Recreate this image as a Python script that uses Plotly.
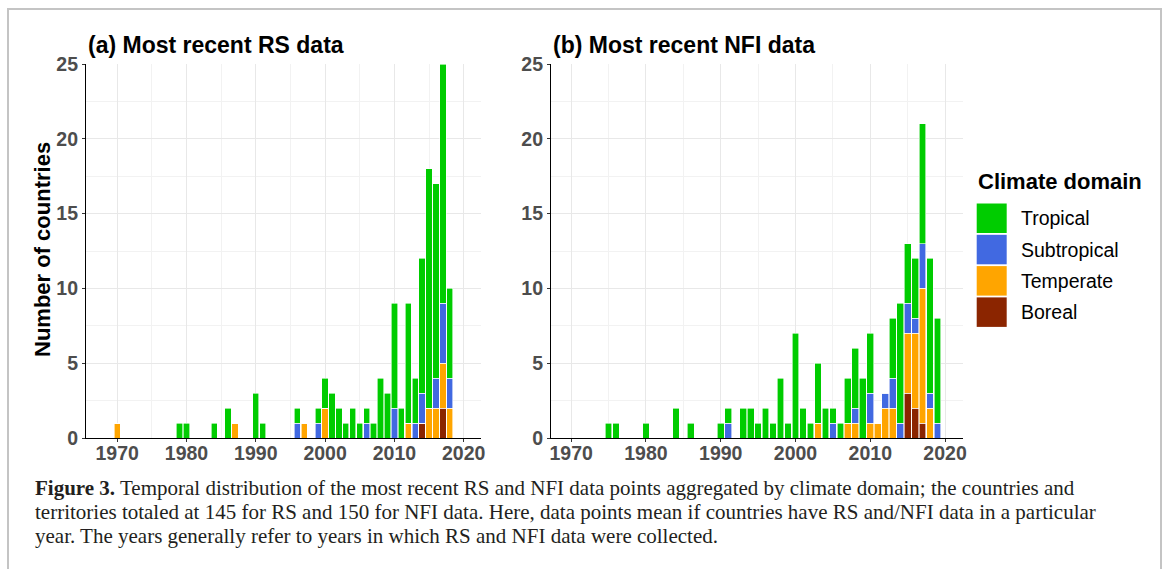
import plotly.graph_objects as go

W, H = 1167, 569

# ---------------- data ----------------
rs_years = [1970, 1979, 1980, 1984, 1986, 1987, 1990, 1991, 1996, 1997, 1999, 2000,
            2001, 2002, 2003, 2004, 2005, 2006, 2007, 2008, 2009, 2010, 2011, 2012,
            2013, 2014, 2015, 2016, 2017, 2018]
rs_tropical    = [0, 1, 1, 1, 2, 0, 3, 1, 1, 0, 1, 2, 3, 2, 1, 2, 1, 1, 1, 4, 3, 7, 2, 8, 3, 9, 16, 13, 16, 6]
rs_subtropical = [0, 0, 0, 0, 0, 0, 0, 0, 1, 0, 1, 0, 0, 0, 0, 0, 0, 1, 0, 0, 0, 2, 0, 0, 1, 2, 0, 2, 4, 2]
rs_temperate   = [1, 0, 0, 0, 0, 1, 0, 0, 0, 1, 0, 2, 0, 0, 0, 0, 0, 0, 0, 0, 0, 0, 0, 1, 0, 0, 2, 2, 3, 2]
rs_boreal      = [0, 0, 0, 0, 0, 0, 0, 0, 0, 0, 0, 0, 0, 0, 0, 0, 0, 0, 0, 0, 0, 0, 0, 0, 0, 1, 0, 0, 2, 0]

nfi_years = [1975, 1976, 1980, 1984, 1986, 1990, 1991, 1993, 1994, 1995, 1996, 1997,
             1998, 1999, 2000, 2001, 2002, 2003, 2004, 2005, 2006, 2007, 2008, 2009,
             2010, 2011, 2012, 2013, 2014, 2015, 2016, 2017, 2018, 2019]
nfi_tropical    = [1, 1, 1, 2, 1, 1, 1, 2, 2, 1, 2, 1, 4, 1, 7, 2, 1, 4, 2, 1, 1, 3, 4, 4, 4, 0, 0, 4, 8, 4, 4, 8, 9, 7]
nfi_subtropical = [0, 0, 0, 0, 0, 0, 1, 0, 0, 0, 0, 0, 0, 0, 0, 0, 0, 0, 0, 1, 0, 0, 1, 0, 2, 0, 1, 2, 1, 2, 1, 3, 1, 1]
nfi_temperate   = [0, 0, 0, 0, 0, 0, 0, 0, 0, 0, 0, 0, 0, 0, 0, 0, 0, 1, 0, 0, 0, 1, 1, 0, 1, 1, 2, 2, 0, 4, 5, 9, 2, 0]
nfi_boreal      = [0, 0, 0, 0, 0, 0, 0, 0, 0, 0, 0, 0, 0, 0, 0, 0, 0, 0, 0, 0, 0, 0, 0, 0, 0, 0, 0, 0, 0, 3, 2, 1, 0, 0]

domain_names = ["Tropical", "Subtropical", "Temperate", "Boreal"]
domain_colors = ["#00CC00", "#4169E1", "#FFA500", "#8B2500"]

x_ticks = [1970, 1980, 1990, 2000, 2010, 2020]
y_ticks = [0, 5, 10, 15, 20, 25]

panel_titles = ["(a) Most recent RS data", "(b) Most recent NFI data"]
y_title = "Number of countries"
legend_title = "Climate domain"
caption_lines = [
    "<b>Figure 3.</b> Temporal distribution of the most recent RS and NFI data points aggregated by climate domain; the countries and",
    "territories totaled at 145 for RS and 150 for NFI data. Here, data points mean if countries have RS and/NFI data in a particular",
    "year. The years generally refer to years in which RS and NFI data were collected.",
]

# ---------------- helpers ----------------
def px(x):
    return x / W

def py(y):
    return 1 - y / H

SANS = "Liberation Sans, Arial, Helvetica, sans-serif"
SERIF = "Liberation Serif, Times New Roman, serif"

fig = go.Figure()

panels = [
    (rs_years, [rs_tropical, rs_subtropical, rs_temperate, rs_boreal], "x", "y"),
    (nfi_years, [nfi_tropical, nfi_subtropical, nfi_temperate, nfi_boreal], "x2", "y2"),
]
for years, series, xa, ya in panels:
    # stack bottom-up: Boreal, Temperate, Subtropical, Tropical
    for idx in [3, 2, 1, 0]:
        fig.add_trace(go.Bar(
            x=years, y=series[idx], name=domain_names[idx],
            marker=dict(color=domain_colors[idx], line=dict(color="white", width=0.6)),
            width=0.9, xaxis=xa, yaxis=ya, showlegend=False,
            hoverinfo="x+y+name",
        ))

axis_common = dict(
    showline=True, linecolor="black", linewidth=1.2,
    ticks="outside", ticklen=3, tickwidth=1, tickcolor="#333333",
    showgrid=True, gridcolor="#E8E8E8", gridwidth=1,
    zeroline=False, fixedrange=True, automargin=False,
    tickfont=dict(family=SANS, size=19.5, color="#4D4D4D", weight="bold"),
)

fig.update_layout(
    template="none",
    width=W, height=H, autosize=False,
    margin=dict(l=0, r=0, t=0, b=0, pad=0, autoexpand=False),
    paper_bgcolor="white", plot_bgcolor="white",
    barmode="stack",
    showlegend=False,
    xaxis=dict(domain=[px(86), px(481)], range=[1965.5, 2022.5], tickvals=x_ticks,
               anchor="y", ticklabelstandoff=-6,
               minor=dict(dtick=5, tick0=1965, showgrid=True, gridcolor="#F2F2F2", gridwidth=0.8),
               **axis_common),
    yaxis=dict(domain=[py(438), py(64)], range=[0, 25], tickvals=y_ticks, anchor="x",
               minor=dict(dtick=2.5, tick0=0, showgrid=True, gridcolor="#F2F2F2", gridwidth=0.8),
               **axis_common),
    xaxis2=dict(domain=[px(551), px(963)], range=[1967.3, 2022.4], tickvals=x_ticks,
                anchor="y2", ticklabelstandoff=-6,
                minor=dict(dtick=5, tick0=1965, showgrid=True, gridcolor="#F2F2F2", gridwidth=0.8),
                **axis_common),
    yaxis2=dict(domain=[py(438), py(64)], range=[0, 25], tickvals=y_ticks, anchor="x2",
                minor=dict(dtick=2.5, tick0=0, showgrid=True, gridcolor="#F2F2F2", gridwidth=0.8),
                **axis_common),
)

annotations = []
# panel titles
for title, x0 in zip(panel_titles, [86, 551]):
    annotations.append(dict(
        text=title, x=px(x0), y=py(45), xref="paper", yref="paper",
        xanchor="left", yanchor="middle", showarrow=False,
        font=dict(family=SANS, size=23, color="black", weight="bold"),
    ))
# y axis title
annotations.append(dict(
    text=y_title, x=px(43), y=py(250), xref="paper", yref="paper",
    xanchor="center", yanchor="middle", showarrow=False, textangle=-90,
    font=dict(family=SANS, size=22, color="black", weight="bold"),
))
# legend title
annotations.append(dict(
    text=legend_title, x=px(976), y=py(181), xref="paper", yref="paper",
    xanchor="left", yanchor="middle", showarrow=False,
    font=dict(family=SANS, size=22, color="black", weight="bold"),
))
shapes = []
key_top = 203.5
key_step = 31.3
for i, (name, col) in enumerate(zip(domain_names, domain_colors)):
    y0 = key_top + i * key_step
    y1 = y0 + 29.5
    shapes.append(dict(type="rect", xref="paper", yref="paper",
                       x0=px(976.7), x1=px(1006.7), y0=py(y1), y1=py(y0),
                       fillcolor=col, line=dict(width=0)))
    annotations.append(dict(
        text=name, x=px(1019), y=py((y0 + y1) / 2), xref="paper", yref="paper",
        xanchor="left", yanchor="middle", showarrow=False,
        font=dict(family=SANS, size=19.5, color="black"),
    ))
# caption
for i, line in enumerate(caption_lines):
    annotations.append(dict(
        text=line, x=px(33), y=py(488 + i * 23.8), xref="paper", yref="paper",
        xanchor="left", yanchor="middle", showarrow=False, align="left",
        font=dict(family=SERIF, size=21, color="#231F20"),
    ))
# figure frame (left, top, right)
shapes.append(dict(type="path", xref="paper", yref="paper",
                   path=f"M {px(8)},{py(575)} L {px(8)},{py(9)} L {px(1161)},{py(9)} L {px(1161)},{py(575)}",
                   line=dict(color="#C4C4C4", width=2)))

fig.update_layout(annotations=annotations, shapes=shapes)

fig.write_html(
    "out.html",
    config={"displayModeBar": False},
    post_script="document.body.style.margin='0';document.body.style.overflow='hidden';",
)
